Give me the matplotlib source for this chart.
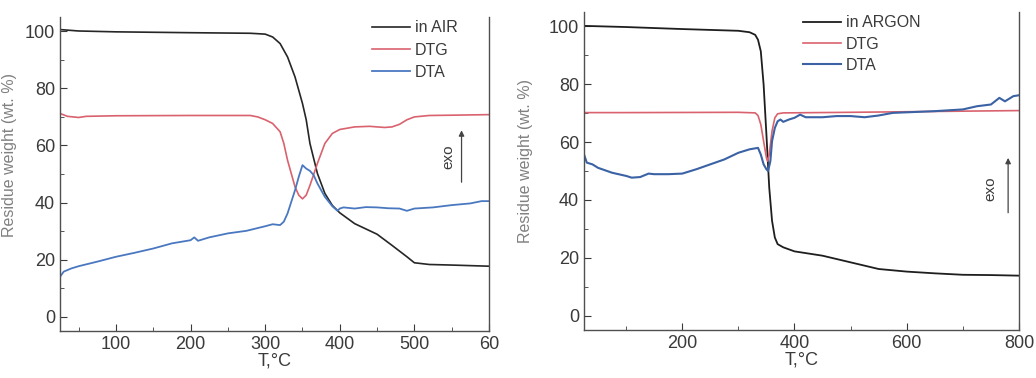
import numpy as np
import matplotlib.pyplot as plt
from matplotlib.ticker import MultipleLocator, FixedLocator

plt.rcParams['font.family'] = ['Liberation Sans', 'DejaVu Sans']

# ---- AIR panel ----
air_t = [25, 50, 100, 200, 280, 300, 310, 320, 330, 340, 350, 355, 360, 370, 380,
         390, 400, 420, 450, 470, 490, 500, 520, 550, 600]
air_tg = [100.6, 100.1, 99.8, 99.5, 99.3, 99.0, 98.0, 95.7, 91.0, 84.0, 74.7, 69.0,
          60.7, 50.2, 43.2, 39.0, 36.4, 32.6, 28.9, 25.0, 21.0, 18.9, 18.3, 18.1, 17.7]

air_dtg_t = [25, 35, 50, 60, 100, 200, 280, 290, 300, 310, 320, 325, 330, 340, 345,
             350, 355, 360, 370, 380, 390, 400, 420, 440, 460, 470, 480, 490, 500,
             520, 550, 600]
air_dtg = [71.2, 70.2, 69.8, 70.2, 70.4, 70.5, 70.5, 70.0, 69.0, 67.7, 64.8, 60.7,
           54.8, 45.5, 42.6, 41.3, 42.6, 46.0, 53.7, 60.7, 64.2, 65.6, 66.5, 66.7,
           66.3, 66.5, 67.4, 69.0, 70.0, 70.5, 70.6, 70.8]

air_dta_t = [25, 30, 40, 50, 75, 100, 125, 150, 175, 200, 205, 210, 225, 250, 275,
             300, 310, 320, 325, 330, 340, 345, 350, 355, 360, 365, 370, 380, 390,
             397, 400, 405, 420, 435, 450, 465, 480, 490, 500, 525, 550, 575, 590, 600]
air_dta = [14.0, 15.8, 16.9, 17.7, 19.3, 21.0, 22.4, 23.9, 25.7, 26.8, 27.8, 26.6,
           27.8, 29.2, 30.1, 31.7, 32.4, 32.1, 33.3, 36.2, 44.3, 49.0, 53.1, 51.9,
           51.1, 49.6, 46.7, 42.0, 38.7, 37.1, 37.9, 38.3, 37.9, 38.4, 38.3, 38.0,
           37.9, 37.1, 37.9, 38.3, 39.1, 39.7, 40.5, 40.5]

# ---- ARGON panel ----
ar_t = [25, 100, 200, 300, 320, 330, 335, 340, 345, 350, 355, 360, 365, 370, 380,
        400, 450, 500, 550, 600, 650, 700, 750, 800]
ar_tg = [100.2, 99.8, 99.1, 98.5, 98.0, 97.1, 95.4, 91.4, 79.9, 62.6, 44.3, 32.8,
         27.0, 24.7, 23.6, 22.2, 20.7, 18.4, 16.1, 15.2, 14.6, 14.1, 14.0, 13.8]

ar_dtg_t = [25, 100, 300, 330, 335, 340, 345, 350, 352, 355, 360, 365, 370, 380,
            500, 600, 800]
ar_dtg = [70.2, 70.2, 70.3, 70.1, 69.2, 66.1, 60.3, 54.6, 53.4, 55.7, 63.8, 68.4,
          69.8, 70.1, 70.3, 70.5, 70.9]

ar_dta_t = [25, 30, 40, 50, 75, 100, 110, 125, 140, 150, 175, 200, 225, 250, 275,
            300, 320, 335, 340, 345, 350, 353, 357, 360, 365, 370, 375, 380, 390,
            400, 410, 420, 450, 475, 500, 525, 550, 575, 600, 650, 700, 725, 750,
            765, 775, 790, 800]
ar_dta = [55.7, 52.9, 52.3, 51.1, 49.4, 48.3, 47.7, 47.9, 49.1, 48.9, 48.9, 49.1,
          50.6, 52.3, 54.0, 56.3, 57.5, 58.0, 55.7, 52.3, 50.6, 50.0, 53.4, 60.3,
          64.9, 67.2, 67.8, 67.0, 67.8, 68.4, 69.5, 68.6, 68.6, 69.0, 69.0, 68.6,
          69.2, 70.1, 70.3, 70.7, 71.3, 72.4, 73.0, 75.3, 74.1, 75.9, 76.2]

fig = plt.figure(figsize=(10.36, 3.78), dpi=100)
ax1 = fig.add_axes([60 / 1036, 1 - 331 / 378, 429 / 1036, 314 / 378])
ax2 = fig.add_axes([584 / 1036, 1 - 330 / 378, 435 / 1036, 318 / 378])

tick_col = '#3a3a3a'
lab_col = '#808080'

for ax in (ax1, ax2):
    ax.set_ylim(-5, 105)
    ax.yaxis.set_major_locator(MultipleLocator(20))
    ax.yaxis.set_minor_locator(MultipleLocator(10))
    ax.tick_params(which='both', direction='in', colors=tick_col, labelsize=13,
                   top=False, right=False)
    ax.tick_params(which='major', length=5)
    ax.tick_params(which='minor', length=3)
    ax.spines['top'].set_visible(False)
    for s in ('left', 'right', 'bottom'):
        ax.spines[s].set_color('#505050')
        ax.spines[s].set_linewidth(1.0)
    ax.set_ylabel('Residue weight (wt. %)', color=lab_col, fontsize=11.5)
    ax.set_xlabel('T,°C', color=tick_col, fontsize=13, labelpad=0)

# left
ax1.plot(air_t, air_tg, color='#262626', lw=1.2, label='in AIR')
ax1.plot(air_dtg_t, air_dtg, color='#d9626e', lw=1.2, label='DTG')
ax1.plot(air_dta_t, air_dta, color='#4a78c0', lw=1.3, label='DTA')
ax1.set_xlim(25, 600)
ax1.xaxis.set_major_locator(FixedLocator([100, 200, 300, 400, 500, 600]))
ax1.set_xticklabels(['100', '200', '300', '400', '500', '60'])
ax1.xaxis.set_minor_locator(MultipleLocator(50))
ax1.yaxis.set_label_coords(-0.1, 0.56)
ax1.legend(loc='upper right', bbox_to_anchor=(0.96, 1.035), frameon=False,
           fontsize=11.5, handlelength=2.4, handletextpad=0.3, labelspacing=0.45,
           labelcolor=tick_col)
ax1.annotate('', xy=(0.936, 0.648), xytext=(0.936, 0.465), xycoords='axes fraction',
             arrowprops=dict(arrowstyle='-|>', color='#444444', lw=0.9,
                             mutation_scale=8))
ax1.text(0.905, 0.555, 'exo', rotation=90, transform=ax1.transAxes,
         ha='center', va='center', color=tick_col, fontsize=11)

# right
ax2.plot(ar_t, ar_tg, color='#1e1e1e', lw=1.3, label='in ARGON')
ax2.plot(ar_dtg_t, ar_dtg, color='#d9626e', lw=1.2, label='DTG')
ax2.plot(ar_dta_t, ar_dta, color='#3a62a4', lw=1.5, label='DTA')
ax2.set_xlim(25, 800)
ax2.xaxis.set_major_locator(MultipleLocator(200))
ax2.xaxis.set_minor_locator(MultipleLocator(100))
ax2.yaxis.set_label_coords(-0.117, 0.53)
ax2.legend(loc='upper left', bbox_to_anchor=(0.47, 1.035), frameon=False,
           fontsize=11.5, handlelength=2.4, handletextpad=0.3, labelspacing=0.4,
           labelcolor=tick_col)
ax2.annotate('', xy=(0.975, 0.55), xytext=(0.975, 0.36), xycoords='axes fraction',
             arrowprops=dict(arrowstyle='-|>', color='#444444', lw=0.9,
                             mutation_scale=8))
ax2.text(0.935, 0.445, 'exo', rotation=90, transform=ax2.transAxes,
         ha='center', va='center', color=tick_col, fontsize=11)

fig.savefig('out.png', dpi=100)
